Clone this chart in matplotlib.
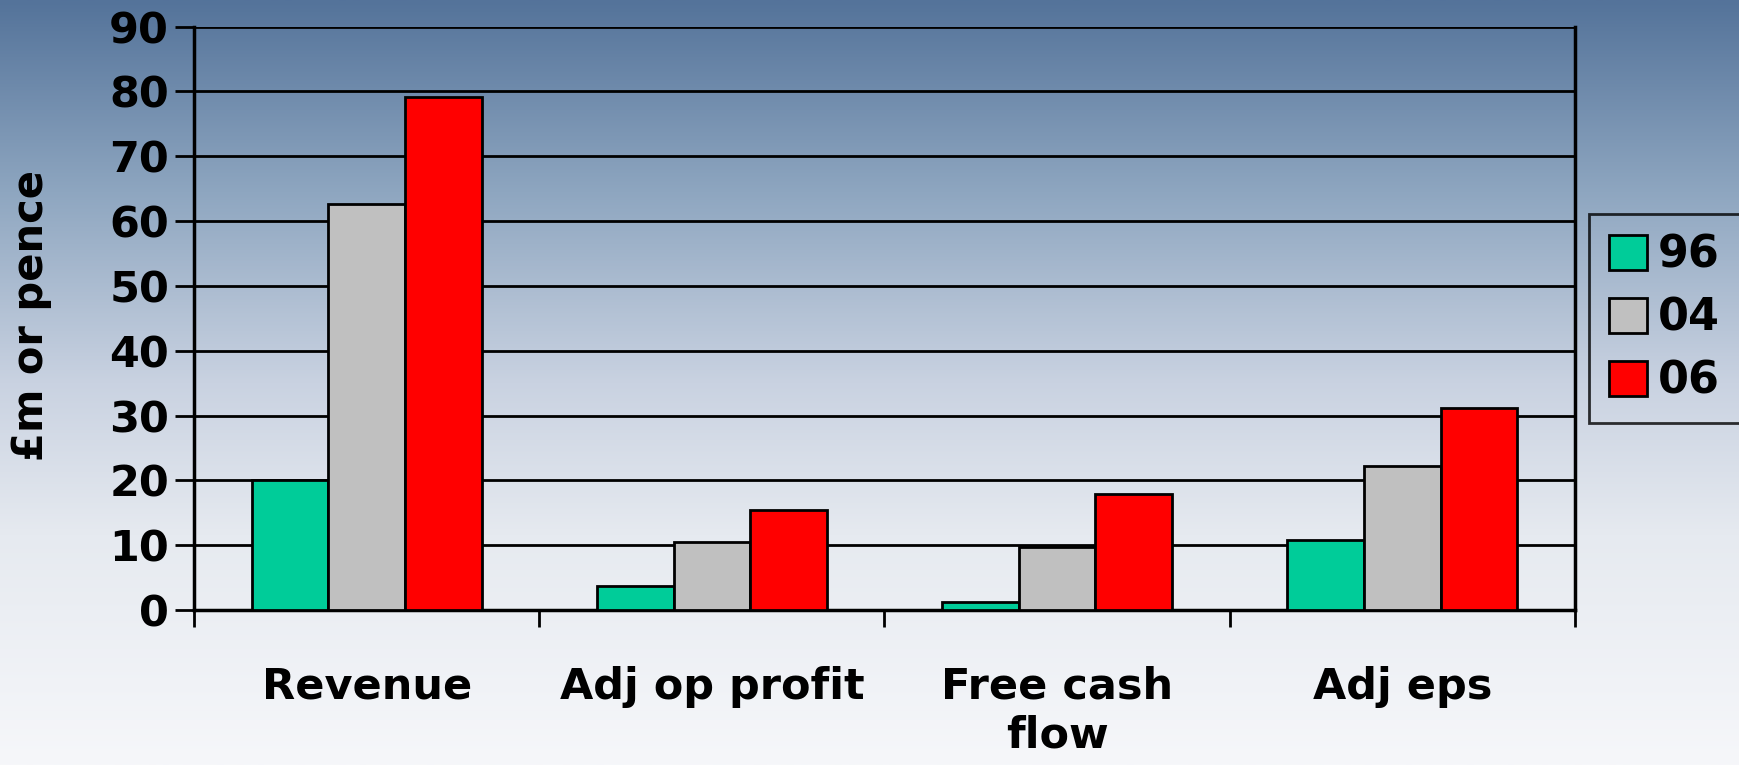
import numpy as np
import matplotlib
matplotlib.use('Agg')
import matplotlib.pyplot as plt
from matplotlib.colors import LinearSegmentedColormap

categories = ['Revenue', 'Adj op profit', 'Free cash\nflow', 'Adj eps']
years = ['96', '04', '06']
vals_96 = [20.0, 3.7, 1.2, 10.8]
vals_04 = [62.7, 10.5, 9.7, 22.2]
vals_06 = [79.1, 15.4, 17.9, 31.2]
colors = ['#00cc99', '#c0c0c0', '#ff0000']

plt.rcParams['font.family'] = 'DejaVu Sans'
plt.rcParams['font.weight'] = 'bold'

fig = plt.figure(figsize=(17.39, 7.65), dpi=100)

# background gradient
bg = fig.add_axes([0, 0, 1, 1], zorder=-10)
cmap = LinearSegmentedColormap.from_list('bg', [(0.0, '#54739a'), (0.25, '#8ea6c0'),
                                               (0.5, '#c9d2e1'), (0.7, '#e6eaf0'),
                                               (1.0, '#f6f7fa')])
grad = np.linspace(0, 1, 256).reshape(-1, 1)
bg.imshow(grad, aspect='auto', cmap=cmap, extent=[0, 1, 1, 0])
bg.set_xlim(0, 1)
bg.set_ylim(1, 0)
bg.axis('off')

ax = fig.add_axes([0.1116, 0.2026, 0.794, 0.7626])
ax.patch.set_alpha(0)

x = np.arange(len(categories))
w = 0.222
for i, (vals, lab) in enumerate(zip([vals_96, vals_04, vals_06], years)):
    ax.bar(x + (i - 1) * w, vals, w, color=colors[i], edgecolor='black',
           linewidth=2, label=lab, zorder=3)

ax.set_xlim(-0.5, len(categories) - 0.5)
ax.set_ylim(0, 90)
ax.set_yticks(range(0, 91, 10))
ax.yaxis.grid(True, color='black', linewidth=2, zorder=0)
ax.set_axisbelow(True)

ax.set_xticks(x)
ax.set_xticklabels(categories, fontsize=31, fontweight='bold', linespacing=1.2)
ax.tick_params(axis='x', length=0, pad=40)
ax.set_xticks(np.arange(-0.5, len(categories), 1), minor=True)
ax.tick_params(axis='x', which='minor', length=12, width=2, direction='out')
ax.tick_params(axis='y', labelsize=31, length=14, width=2, pad=4)
for lbl in ax.get_yticklabels():
    lbl.set_fontweight('bold')

for s in ['left', 'bottom', 'right']:
    ax.spines[s].set_linewidth(2.5)
ax.spines['top'].set_visible(False)

fig.text(0.018, 0.587, '£m or pence', rotation=90, fontsize=30, fontweight='bold',
         ha='center', va='center')

leg = fig.legend(loc='center', bbox_to_anchor=(0.957, 0.584), fontsize=32,
                 frameon=True, fancybox=False, handlelength=0.85, handleheight=0.85,
                 handletextpad=0.25, labelspacing=0.45, borderpad=0.45,
                 borderaxespad=0)
leg.get_frame().set_edgecolor('black')
leg.get_frame().set_linewidth(2)
leg.get_frame().set_facecolor('none')
for h in leg.legend_handles:
    h.set_linewidth(2)

fig.savefig('out.png', dpi=100)
